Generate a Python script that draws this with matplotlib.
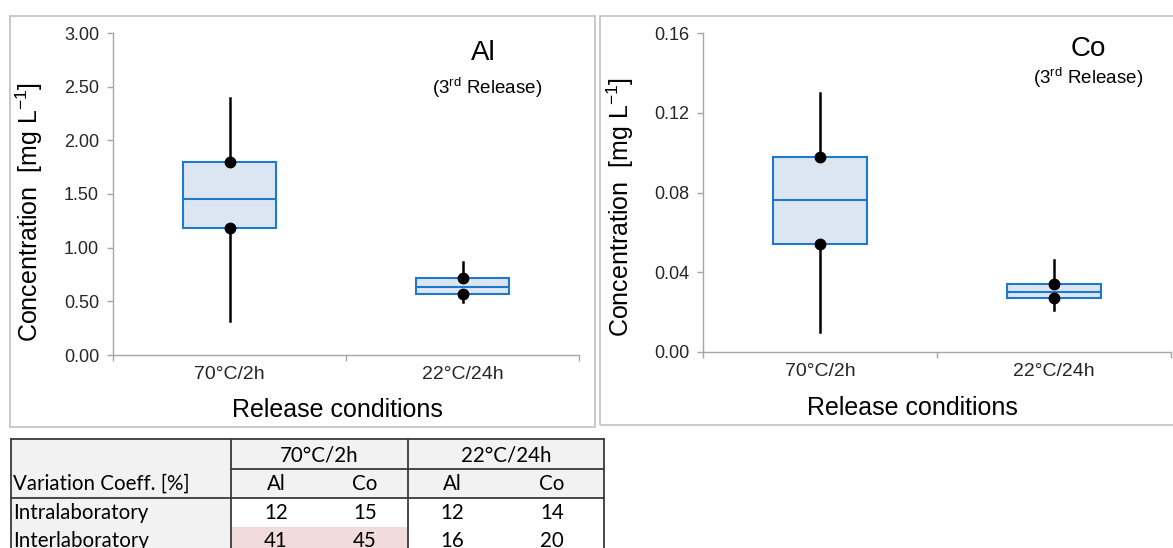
import matplotlib
matplotlib.use("Agg")
import matplotlib.pyplot as plt
from matplotlib.patches import Rectangle
from matplotlib.lines import Line2D

plt.rcParams['font.family'] = ['Liberation Sans', 'DejaVu Sans']
plt.rcParams['mathtext.fontset'] = 'custom'
plt.rcParams['mathtext.rm'] = 'Liberation Sans'

W, H = 1173, 548

# ---------------- data ----------------
conditions = ["70°C/2h", "22°C/24h"]

al_q1 = [1.18, 0.57]
al_med = [1.45, 0.63]
al_q3 = [1.80, 0.72]
al_lo = [0.32, 0.49]
al_hi = [2.39, 0.87]

co_q1 = [0.054, 0.027]
co_med = [0.076, 0.030]
co_q3 = [0.098, 0.034]
co_lo = [0.010, 0.021]
co_hi = [0.130, 0.046]

al_ticks = [0.0, 0.5, 1.0, 1.5, 2.0, 2.5, 3.0]
co_ticks = [0.0, 0.04, 0.08, 0.12, 0.16]

table_groups = ["70°C/2h", "22°C/24h"]
table_elements = ["Al", "Co", "Al", "Co"]
table_rows = ["Intralaboratory", "Interlaboratory"]
intra_vals = [12, 15, 12, 14]
inter_vals = [41, 45, 16, 20]

# ---------------- style ----------------
BOX_EDGE = '#1f78c8'
BOX_FILL = '#dce6f2'
AXIS_GRAY = '#a6a6a6'
FRAME_GRAY = '#c0c0c0'
TXT = '#262626'


def fx(px):
    return px / W


def fy(py):
    return 1 - py / H


fig = plt.figure(figsize=(W / 100, H / 100), dpi=100)

# outer frames
fig.patches.append(Rectangle((fx(10), fy(427)), fx(585), (427 - 16) / H,
                             transform=fig.transFigure, fill=False,
                             edgecolor=FRAME_GRAY, linewidth=1.2))
fig.patches.append(Rectangle((fx(600), fy(425)), fx(590), (425 - 16) / H,
                             transform=fig.transFigure, fill=False,
                             edgecolor=FRAME_GRAY, linewidth=1.2))


def make_panel(rect, q1, med, q3, lo, hi, ticks, fmt, ylim):
    ax = fig.add_axes(rect)
    stats = []
    for i in range(len(conditions)):
        stats.append(dict(med=med[i], q1=q1[i], q3=q3[i], whislo=lo[i],
                          whishi=hi[i], fliers=[], label=conditions[i]))
    pos = [0.5, 1.5]
    ax.bxp(stats, positions=pos, widths=0.4, patch_artist=True,
           showcaps=False, showfliers=False,
           boxprops=dict(facecolor=BOX_FILL, edgecolor=BOX_EDGE, linewidth=1.5),
           medianprops=dict(color=BOX_EDGE, linewidth=1.5),
           whiskerprops=dict(color='black', linewidth=1.8))
    ax.plot(pos, q3, 'o', color='black', markersize=7.5, zorder=5)
    ax.plot(pos, q1, 'o', color='black', markersize=7.5, zorder=5)
    ax.set_xlim(0, 2)
    ax.set_ylim(*ylim)
    ax.set_yticks(ticks)
    ax.set_yticklabels([fmt.format(t) for t in ticks], fontsize=13, color=TXT)
    ax.set_xticks([0, 1, 2])
    ax.set_xticklabels([])
    ax.set_xticks(pos, minor=True)
    ax.set_xticklabels(conditions, minor=True, fontsize=14, color=TXT)
    ax.tick_params(axis='x', which='minor', length=0, pad=8)
    ax.tick_params(axis='x', which='major', length=4, color=AXIS_GRAY, width=1)
    ax.tick_params(axis='y', length=4, color=AXIS_GRAY, width=1, pad=6)
    for s in ['top', 'right']:
        ax.spines[s].set_visible(False)
    for s in ['left', 'bottom']:
        ax.spines[s].set_color(AXIS_GRAY)
        ax.spines[s].set_linewidth(1)
    ax.patch.set_alpha(0)
    return ax


ax1 = make_panel([fx(113), fy(355), fx(466), (355 - 33) / H],
                 al_q1, al_med, al_q3, al_lo, al_hi, al_ticks, "{:.2f}", (0, 3))
ax2 = make_panel([fx(703), fy(352), fx(468), (352 - 33) / H],
                 co_q1, co_med, co_q3, co_lo, co_hi, co_ticks, "{:.2f}", (0, 0.16))

ylab = 'Concentration  [mg L$^{\\mathregular{-1}}$]'
fig.text(fx(29), fy(212), ylab, rotation=90, ha='center', va='center', fontsize=18)
fig.text(fx(620), fy(207), ylab, rotation=90, ha='center', va='center', fontsize=18)
fig.text(fx(337), fy(410), 'Release conditions', ha='center', va='center', fontsize=18)
fig.text(fx(912), fy(408), 'Release conditions', ha='center', va='center', fontsize=18)

fig.text(fx(483), fy(53), 'Al', ha='center', va='center', fontsize=20)
fig.text(fx(487), fy(88), '(3$^{\\mathregular{rd}}$ Release)', ha='center', va='center', fontsize=13.5)
fig.text(fx(1088), fy(49), 'Co', ha='center', va='center', fontsize=20)
fig.text(fx(1088), fy(78), '(3$^{\\mathregular{rd}}$ Release)', ha='center', va='center', fontsize=13.5)

# ---------------- table ----------------
TFONT = ['Lato', 'DejaVu Sans']
TSIZE = 14.8
GRAY_BG = '#f2f2f2'
PINK_BG = '#f2dcdb'
LINE_C = '#3a3a3a'

x0, x1, x2, x3 = 11, 231, 408, 604
y0, y1, y2, y3, y4 = 439, 469, 498, 527, 560


def rect_px(xa, ya, xb, yb, color):
    fig.patches.append(Rectangle((fx(xa), fy(yb)), fx(xb - xa), (yb - ya) / H,
                                 transform=fig.transFigure, facecolor=color,
                                 edgecolor='none', zorder=0))


def line_px(xa, ya, xb, yb):
    fig.lines.append(Line2D([fx(xa), fx(xb)], [fy(ya), fy(yb)],
                            transform=fig.transFigure, color=LINE_C, linewidth=1.3))


rect_px(x0, y0, x3, y2, GRAY_BG)
rect_px(x0, y2, x1, y4, GRAY_BG)
rect_px(x1, y3, x2, y4, PINK_BG)

line_px(x0, y0, x3, y0)
line_px(x1, y1, x3, y1)
line_px(x0, y2, x3, y2)
for xv in (x0, x1, x2, x3):
    line_px(xv, y0, xv, y4)

fig.text(fx((x1 + x2) / 2), fy(455), table_groups[0], ha='center', va='center',
         fontsize=TSIZE, family=TFONT)
fig.text(fx((x2 + x3) / 2), fy(455), table_groups[1], ha='center', va='center',
         fontsize=TSIZE, family=TFONT)
fig.text(fx(13), fy(484), 'Variation Coeff. [%]', ha='left', va='center',
         fontsize=TSIZE, family=TFONT)
col_x = [276, 365, 452, 552]
for cx, el in zip(col_x, table_elements):
    fig.text(fx(cx), fy(484), el, ha='center', va='center', fontsize=TSIZE, family=TFONT)
fig.text(fx(13), fy(513), table_rows[0], ha='left', va='center', fontsize=TSIZE, family=TFONT)
fig.text(fx(13), fy(541), table_rows[1], ha='left', va='center', fontsize=TSIZE, family=TFONT)
for cx, v in zip(col_x, intra_vals):
    fig.text(fx(cx), fy(513), str(v), ha='center', va='center', fontsize=TSIZE, family=TFONT)
for cx, v in zip(col_x, inter_vals):
    fig.text(fx(cx), fy(541), str(v), ha='center', va='center', fontsize=TSIZE, family=TFONT)

fig.savefig('out.png', dpi=100, facecolor='white')
